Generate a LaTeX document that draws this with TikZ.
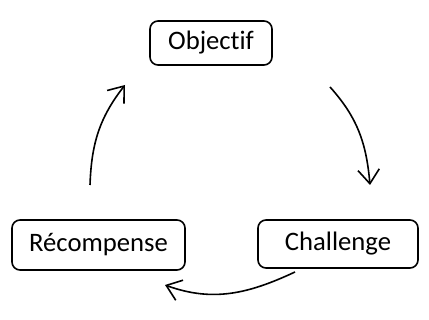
\documentclass[tikz,border=0pt]{standalone}
\usepackage{fontspec}
\setmainfont[Ligatures=NoCommon]{Carlito}
\usetikzlibrary{arrows.meta}
\begin{document}
\begin{tikzpicture}[x=0.75pt,y=0.75pt,
  stage/.style={draw=black, line width=1.2pt, rounded corners=6pt, fill=white,
    font=\fontsize{20}{24}\selectfont, inner sep=0pt},
  cycle/.style={draw=black, line width=1.2pt,
    -{Straight Barb[length=10.5pt,width=16pt,line width=1.2pt]}}]
\useasboundingbox (0,0) rectangle (429,320);
% the three stages of the loop
\node[stage, minimum width=91.5pt, minimum height=33pt] (obj) at (211,277) {Objectif};
\node[stage, minimum width=129.75pt, minimum height=37.5pt] (rec) at (98.5,75) {Récompense};
\node[stage, minimum width=120pt, minimum height=36pt] (cha) at (338,76) {Challenge};
% ends of the curved arrows between the stages
\coordinate (a1s) at (330,233);
\coordinate (a1e) at (370,135);
\coordinate (a2s) at (295,48);
\coordinate (a2e) at (165,35);
\coordinate (a3s) at (90,135);
\coordinate (a3e) at (125,235);
\draw[cycle] (a1s) to[out=-48,in=95] (a1e);
\draw[cycle] (a2s) to[out=-155,in=-20] (a2e);
\draw[cycle] (a3s) to[out=88,in=-128] (a3e);
\end{tikzpicture}
\end{document}
